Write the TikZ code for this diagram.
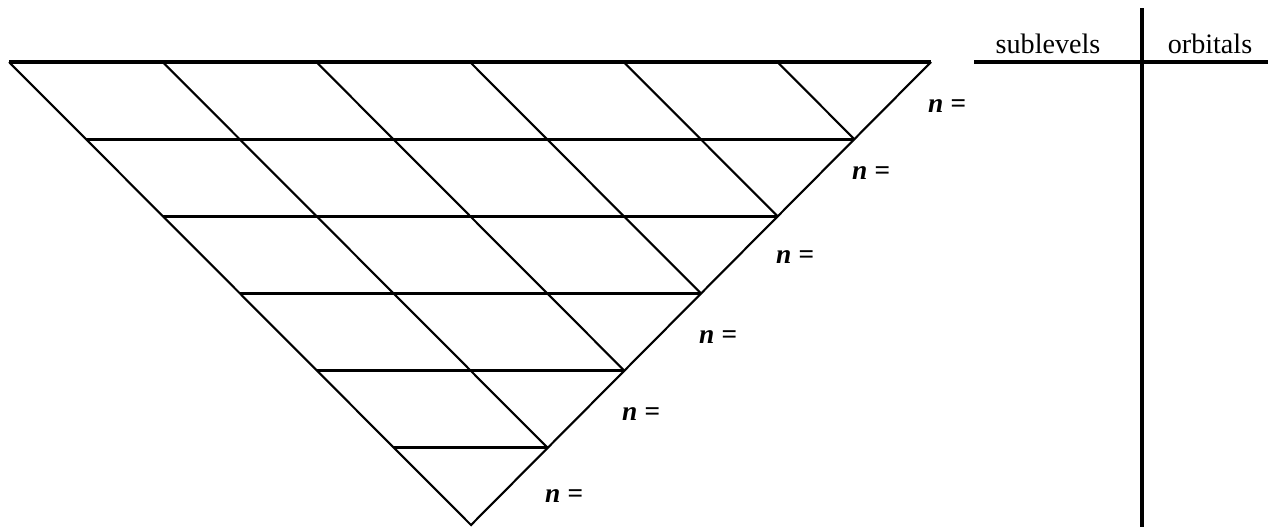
\documentclass[tikz,border=0pt]{standalone}
\usepackage{fontspec}
\setmainfont{Liberation Serif}
\usetikzlibrary{calc}
\begin{document}
\begin{tikzpicture}[x=0.01cm,y=-0.01cm,
  hline/.style={line width=0.9pt},
  dline/.style={line width=0.6pt},
  tline/.style={line width=1pt},
  nlabel/.style={font=\fontsize{7.8}{9}\selectfont\bfseries\itshape, inner sep=0pt},
  head/.style={font=\fontsize{8}{10}\selectfont, inner sep=0pt, anchor=base}]
\useasboundingbox (0,0) rectangle (1268,527);
\coordinate (L) at (9,62);
\coordinate (R) at (931,62);
\coordinate (A) at (471,525);
% outer triangle
\draw[hline] (L) -- (R);
\draw[dline] (L) -- (A) -- (R);
% horizontal rows
\foreach \k in {1,...,5} {
  \draw[hline] ($(L)!\k/6!(A)$) -- ($(R)!\k/6!(A)$);
}
% diagonals
\foreach \k in {1,...,5} {
  \pgfmathtruncatemacro{\m}{6-\k}
  \draw[dline] ($(L)!\k/6!(R)$) -- ($(R)!\m/6!(A)$);
}
% labels
\node[nlabel] (n1) at (947,106) {n =};
\node[nlabel] (n2) at (871,173) {n =};
\node[nlabel] (n3) at (795,257) {n =};
\node[nlabel] (n4) at (718,337) {n =};
\node[nlabel] (n5) at (641,414) {n =};
\node[nlabel] (n6) at (564,496) {n =};
% table
\coordinate (vt) at (1142,8);
\coordinate (vb) at (1142,527);
\coordinate (hl) at (974,62);
\coordinate (hr) at (1268,62);
\draw[tline] (vt) -- (vb);
\draw[hline] (hl) -- (hr);
\node[head] (sub) at (1048,53) {sublevels};
\node[head] (orb) at (1210,53) {orbitals};
\end{tikzpicture}
\end{document}
